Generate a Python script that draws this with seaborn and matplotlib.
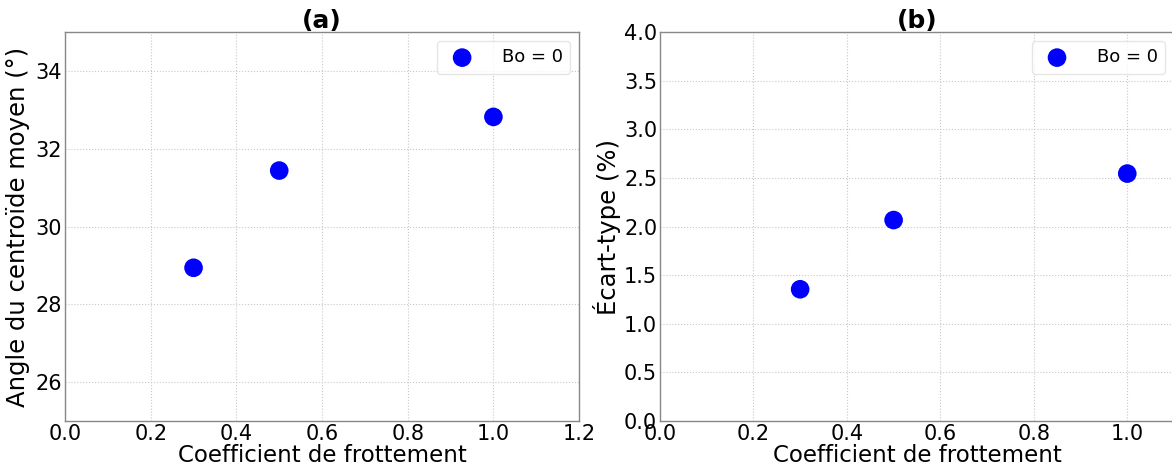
import numpy as np
import pandas as pd
import seaborn as sns
import matplotlib.pyplot as plt

sns.set_style('whitegrid')
plt.rcParams['font.family'] = ['DejaVu Sans']
plt.rcParams['text.color'] = 'black'
plt.rcParams['axes.labelcolor'] = 'black'
plt.rcParams['xtick.color'] = 'black'
plt.rcParams['ytick.color'] = 'black'

friction = [0.3, 0.5, 1.0]
angle_mean = [28.94, 31.44, 32.82]
std_pct = [1.355, 2.067, 2.545]
label = 'Bo = 0'

df = pd.DataFrame({'friction': friction, 'angle': angle_mean, 'std': std_pct})

fig = plt.figure(figsize=(11.72, 4.68), dpi=100)
ax1 = fig.add_axes([0.0555, 0.1004, 0.4386, 0.831])
ax2 = fig.add_axes([0.5631, 0.1004, 0.4386, 0.831])

# (a) mean angle
sns.scatterplot(data=df, x='friction', y='angle', ax=ax1, color='blue', s=180,
                edgecolor='none', label=label)
ax1.set_xlim(0, 1.2)
ax1.set_ylim(25, 35)
ax1.set_yticks([26, 28, 30, 32, 34])
ax1.set_xlabel('Coefficient de frottement', size=16.5, labelpad=0)
ax1.set_ylabel('Angle du centroïde moyen (°)', size=17.5, labelpad=4)
ax1.set_title('(a)', size=18, fontweight='bold', pad=3)

# (b) standard deviation
sns.scatterplot(data=df, x='friction', y='std', ax=ax2, color='blue', s=180,
                edgecolor='none', label=label)
ax2.set_xlim(0, 1.1)
ax2.set_ylim(0, 4)
ax2.set_xticks([0.0, 0.2, 0.4, 0.6, 0.8, 1.0])
ax2.set_xlabel('Coefficient de frottement', size=16.5, labelpad=0)
ax2.set_ylabel('Écart-type (%)', size=17.5, labelpad=2)
ax2.set_title('(b)', size=18, fontweight='bold', pad=3)

for ax in (ax1, ax2):
    ax.tick_params(axis='both', labelsize=15, length=0, pad=2)
    ax.grid(True, linestyle=':', linewidth=0.8, color='#c8c8c8')
    for sp in ax.spines.values():
        sp.set_color('#888888')
        sp.set_linewidth(1.0)
    leg = ax.legend(loc='upper right', fontsize=13, handletextpad=1.2,
                    borderpad=0.4, borderaxespad=0.5, frameon=True)
    leg.get_frame().set_edgecolor('#e0e0e0')

fig.savefig('out.png', dpi=100)
